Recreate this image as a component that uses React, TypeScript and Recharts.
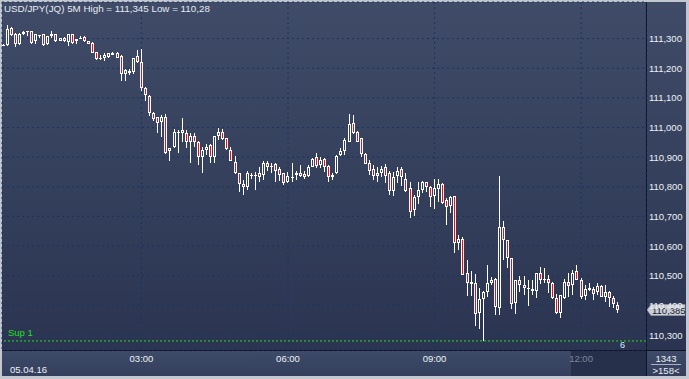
import React from 'react';
import { ComposedChart, Bar, XAxis, YAxis, CartesianGrid, ReferenceLine } from 'recharts';

const OPEN = [111.277,111.278,111.336,111.315,111.282,111.314,111.323,111.324,111.292,111.310,111.314,111.282,111.310,111.315,111.293,111.303,111.288,111.314,111.292,111.301,111.307,111.292,111.285,111.255,111.235,111.233,111.237,111.244,111.253,111.241,111.182,111.184,111.189,111.241,111.220,111.135,111.107,111.048,111.034,111.019,111.034,110.921,110.933,110.985,110.991,110.980,110.952,110.971,110.951,110.899,110.924,110.941,110.899,110.972,110.985,110.963,110.924,110.884,110.845,110.808,110.798,110.839,110.839,110.845,110.840,110.879,110.869,110.876,110.859,110.845,110.817,110.833,110.840,110.845,110.843,110.836,110.868,110.899,110.873,110.893,110.870,110.832,110.845,110.907,110.922,110.952,111.014,110.984,110.963,110.909,110.879,110.859,110.845,110.845,110.866,110.845,110.786,110.836,110.859,110.828,110.795,110.722,110.766,110.789,110.815,110.798,110.769,110.792,110.809,110.755,110.736,110.769,110.612,110.623,110.508,110.472,110.474,110.373,110.420,110.444,110.477,110.489,110.391,110.663,110.620,110.559,110.409,110.485,110.468,110.457,110.454,110.447,110.508,110.487,110.489,110.477,110.426,110.373,110.424,110.478,110.468,110.516,110.485,110.431,110.452,110.454,110.444,110.465,110.429,110.446,110.424,110.401];
const HIGH = [111.282,111.345,111.339,111.319,111.319,111.324,111.324,111.325,111.317,111.312,111.315,111.310,111.325,111.317,111.303,111.305,111.315,111.315,111.298,111.309,111.309,111.293,111.287,111.256,111.244,111.250,111.253,111.255,111.255,111.243,111.197,111.197,111.236,111.260,111.264,111.138,111.110,111.053,111.035,111.042,111.045,110.932,110.994,110.991,111.031,110.991,110.980,110.982,110.953,110.935,110.944,110.944,110.973,110.997,110.994,110.965,110.935,110.904,110.847,110.823,110.853,110.847,110.851,110.866,110.888,110.887,110.879,110.880,110.868,110.847,110.851,110.879,110.853,110.873,110.853,110.873,110.897,110.913,110.899,110.897,110.872,110.845,110.907,110.930,110.963,111.045,111.042,110.988,110.965,110.914,110.890,110.875,110.867,110.870,110.877,110.853,110.851,110.866,110.868,110.847,110.817,110.772,110.817,110.820,110.817,110.802,110.828,110.825,110.814,110.761,110.769,110.770,110.639,110.629,110.553,110.516,110.506,110.457,110.447,110.536,110.496,110.492,110.836,110.684,110.622,110.560,110.487,110.498,110.499,110.485,110.485,110.510,110.528,110.525,110.502,110.480,110.438,110.436,110.489,110.508,110.519,110.536,110.491,110.468,110.474,110.463,110.474,110.468,110.468,110.449,110.431,110.412];
const LOW = [111.275,111.275,111.309,111.273,111.277,111.312,111.310,111.283,111.283,111.302,111.275,111.280,111.302,111.290,111.292,111.290,111.275,111.283,111.283,111.297,111.290,111.282,111.250,111.229,111.229,111.226,111.233,111.243,111.234,111.158,111.158,111.177,111.179,111.217,111.123,111.088,111.039,111.023,110.980,110.969,110.911,110.888,110.931,110.913,110.952,110.930,110.879,110.935,110.873,110.847,110.907,110.879,110.879,110.958,110.958,110.924,110.887,110.843,110.783,110.772,110.789,110.825,110.789,110.817,110.823,110.854,110.847,110.817,110.820,110.806,110.812,110.817,110.823,110.832,110.828,110.832,110.866,110.862,110.862,110.851,110.817,110.823,110.843,110.905,110.907,110.950,110.979,110.950,110.899,110.876,110.840,110.824,110.817,110.833,110.813,110.772,110.770,110.813,110.804,110.784,110.694,110.701,110.742,110.778,110.783,110.733,110.724,110.750,110.742,110.671,110.710,110.577,110.586,110.502,110.431,110.430,110.332,110.319,110.280,110.429,110.468,110.367,110.367,110.553,110.526,110.387,110.371,110.444,110.436,110.399,110.436,110.426,110.473,110.474,110.441,110.421,110.371,110.358,110.421,110.429,110.435,110.484,110.420,110.418,110.450,110.418,110.435,110.427,110.412,110.393,110.390,110.373];
const CLOSE = [111.280,111.332,111.312,111.282,111.317,111.322,111.324,111.285,111.315,111.311,111.277,111.309,111.314,111.292,111.302,111.292,111.314,111.285,111.297,111.302,111.292,111.283,111.251,111.231,111.236,111.244,111.250,111.251,111.236,111.180,111.194,111.190,111.233,111.220,111.135,111.110,111.048,111.030,111.014,111.034,110.913,110.930,110.984,110.986,110.980,110.952,110.971,110.952,110.899,110.924,110.935,110.899,110.971,110.986,110.960,110.926,110.888,110.845,110.809,110.798,110.847,110.840,110.840,110.834,110.881,110.866,110.870,110.854,110.840,110.814,110.836,110.834,110.847,110.836,110.834,110.868,110.893,110.870,110.890,110.868,110.834,110.840,110.904,110.921,110.958,111.012,110.980,110.952,110.910,110.878,110.854,110.838,110.837,110.859,110.838,110.785,110.834,110.854,110.833,110.786,110.714,110.766,110.789,110.817,110.798,110.764,110.795,110.809,110.747,110.733,110.764,110.609,110.623,110.504,110.477,110.478,110.370,110.421,110.444,110.474,110.485,110.393,110.663,110.619,110.559,110.403,110.485,110.468,110.457,110.458,110.447,110.508,110.485,110.488,110.474,110.424,110.373,110.435,110.478,110.466,110.508,110.485,110.429,110.455,110.457,110.438,110.465,110.429,110.444,110.424,110.403,110.385];

const TIME_TICKS = [34, 70, 106, 142];
const TIME_LABELS = ['03:00', '06:00', '09:00', '12:00'];
const PRICE_TICKS = [110.3, 110.4, 110.5, 110.6, 110.7, 110.8, 110.9, 111.0, 111.1, 111.2, 111.3];
const SUPPORT = 110.28;
const SUPPORT_LABEL = 'Sup 1';
const TITLE = 'USD/JPY(JQ) 5M  High = 111,345  Low = 110,28';
const DATE_LABEL = '05.04.16';
const BAR_COUNT = '1343';
const VISIBLE_COUNT = '>158<';

const FONT = '"Liberation Sans", Arial, sans-serif';
const RED = '#f00a14';

const data = OPEN.map((o, i) => ({ i, o, h: HIGH[i], l: LOW[i], c: CLOSE[i] }));
const LAST = CLOSE[CLOSE.length - 1];

const fmtPrice = (v: number) => v.toFixed(3).replace('.', ',');

function Candle(props: any) {
  const { x, y, width, height, payload } = props;
  if (!payload || x == null || y == null) return null;
  const { o, h, l, c } = payload;
  const top = Math.min(y, y + height);
  const span = Math.abs(height);
  const ppu = h > l ? span / (h - l) : 0;
  const yOf = (v: number) => top + (h - v) * ppu;
  const cx = Math.round(x + width / 2 - 0.5);
  const wx = cx + 0.5;
  const yHigh = Math.round(top);
  const yLow = Math.round(top + span);
  const bTop = Math.round(yOf(Math.max(o, c)));
  const bBot = Math.round(yOf(Math.min(o, c)));
  const bull = c >= o;
  if (bBot - bTop < 3) {
    return (
      <g>
        <line x1={wx} x2={wx} y1={yHigh} y2={Math.max(yLow, yHigh + 1)} stroke="#ffffff" strokeWidth={1} />
        <rect x={cx - 1} y={bTop} width={3} height={Math.max(1, bBot - bTop)} fill="#ffffff" />
      </g>
    );
  }
  return (
    <g>
      {bTop > yHigh && <line x1={wx} x2={wx} y1={yHigh} y2={bTop} stroke="#ffffff" strokeWidth={1} />}
      {yLow > bBot && <line x1={wx} x2={wx} y1={bBot} y2={yLow} stroke="#ffffff" strokeWidth={1} />}
      <rect x={cx - 0.5} y={bTop + 0.5} width={2} height={bBot - bTop - 1} fill={bull ? 'none' : RED} stroke="#ffffff" strokeWidth={1} />
    </g>
  );
}

function PriceTick(props: any) {
  const { x, y, payload } = props;
  return (
    <text x={x} y={y + 3.5} fill="#eef1f6" fontSize={9.5} fontFamily={FONT} textAnchor="start">
      {fmtPrice(payload.value)}
    </text>
  );
}

function TimeTick(props: any) {
  const { x, y, payload } = props;
  const idx = TIME_TICKS.indexOf(payload.value);
  const dim = idx === TIME_TICKS.length - 1;
  return (
    <text x={x} y={y + 12} fill={dim ? '#7d879b' : '#eef1f6'} fontSize={9.5} fontFamily={FONT} textAnchor="middle">
      {TIME_LABELS[idx]}
    </text>
  );
}

function SupportLabel(props: any) {
  const vb = props.viewBox || {};
  const x0 = vb.x ?? 0;
  const w = vb.width ?? 0;
  const ly = vb.y ?? 0;
  return (
    <g>
      <text x={x0 + 6} y={ly - 4.5} fill="#1fe01f" fontSize={9.5} fontFamily={FONT}>{SUPPORT_LABEL}</text>
      <text x={x0 + w - 26} y={ly + 7.5} fill="#d8ecff" fontSize={9} fontFamily={FONT}>6</text>
    </g>
  );
}

function LastPriceLabel(props: any) {
  const vb = props.viewBox || {};
  const xr = (vb.x ?? 0) + (vb.width ?? 0);
  const ly = Math.round(vb.y ?? 0);
  return (
    <g>
      <path d={`M${xr + 1},${ly} L${xr + 5},${ly - 5.5} L${xr + 39},${ly - 5.5} L${xr + 39},${ly + 5.5} L${xr + 5},${ly + 5.5} Z`} fill="#c9cdd4" stroke="#9aa0aa" strokeWidth={0.5} />
      <text x={xr + 6} y={ly + 3.5} fill="#1b2030" fontSize={9.5} fontFamily={FONT}>{fmtPrice(LAST)}</text>
    </g>
  );
}

export default function App() {
  return (
    <div style={{ position: 'absolute', left: 0, top: 0, width: 689, height: 379, overflow: 'hidden' }}>
      <svg width={689} height={379} style={{ position: 'absolute', left: 0, top: 0 }}>
        <defs>
          <linearGradient id="plotBg" x1="0" y1="0" x2="0" y2="1">
            <stop offset="0%" stopColor="#3f4b67" />
            <stop offset="100%" stopColor="#2b3552" />
          </linearGradient>
          <linearGradient id="axisBg" x1="0" y1="0" x2="0" y2="1">
            <stop offset="0%" stopColor="#3e4b68" />
            <stop offset="100%" stopColor="#333f5c" />
          </linearGradient>
        </defs>
        <rect x={0} y={0} width={689} height={379} fill="#c3c8d0" />
        <rect x={2} y={2} width={684} height={374} fill="#0e1422" />
        <rect x={2} y={2} width={644} height={348} fill="url(#plotBg)" />
        <rect x={647} y={2} width={39} height={348} fill="url(#plotBg)" />
        <rect x={2} y={351} width={644} height={25} fill="url(#axisBg)" />
        <rect x={571} y={351} width={75} height={25} fill="#27304a" />
        <rect x={647} y={351} width={39} height={25} fill="url(#axisBg)" />
      </svg>
      <div style={{ position: 'absolute', left: 0, top: 0 }}>
        <ComposedChart width={689} height={379} data={data} margin={{ top: 2, right: 3, bottom: 3, left: 2 }}>
          <CartesianGrid stroke="#1b3462" strokeDasharray="2 3" />
          <XAxis
            dataKey="i"
            type="number"
            domain={[-0.27, 157.96]}
            allowDataOverflow
            ticks={TIME_TICKS}
            interval={0}
            height={26}
            axisLine={false}
            tickLine={false}
            tickSize={0}
            tickMargin={0}
            tick={<TimeTick />}
          />
          <YAxis
            orientation="right"
            type="number"
            domain={[110.2494, 111.4235]}
            allowDataOverflow
            ticks={PRICE_TICKS}
            interval={0}
            width={40}
            axisLine={false}
            tickLine={false}
            tickSize={0}
            tickMargin={3}
            tick={<PriceTick />}
          />
          <Bar
            dataKey={(d: any) => [d.l, d.h]}
            barSize={4}
            isAnimationActive={false}
            shape={(p: any) => <Candle {...p} />}
          />
          <ReferenceLine y={SUPPORT} stroke="#1fe01f" strokeDasharray="2 2" label={<SupportLabel />} ifOverflow="extendDomain" />
          <ReferenceLine y={LAST} stroke="none" label={<LastPriceLabel />} />
        </ComposedChart>
      </div>
      <svg width={689} height={379} style={{ position: 'absolute', left: 0, top: 0, pointerEvents: 'none' }}>
        <text x={4} y={12} fill="#e6ebf3" fontSize={9.8} fontFamily={FONT}>{TITLE}</text>
        <text x={10} y={373} fill="#eef1f6" fontSize={9.5} fontFamily={FONT}>{DATE_LABEL}</text>
        <text x={666} y={361.5} fill="#eef1f6" fontSize={9.5} fontFamily={FONT} textAnchor="middle">{BAR_COUNT}</text>
        <line x1={651} x2={681} y1={364.5} y2={364.5} stroke="#aab2c2" strokeWidth={1} />
        <text x={666} y={373.5} fill="#eef1f6" fontSize={9.5} fontFamily={FONT} textAnchor="middle">{VISIBLE_COUNT}</text>
      </svg>
    </div>
  );
}
